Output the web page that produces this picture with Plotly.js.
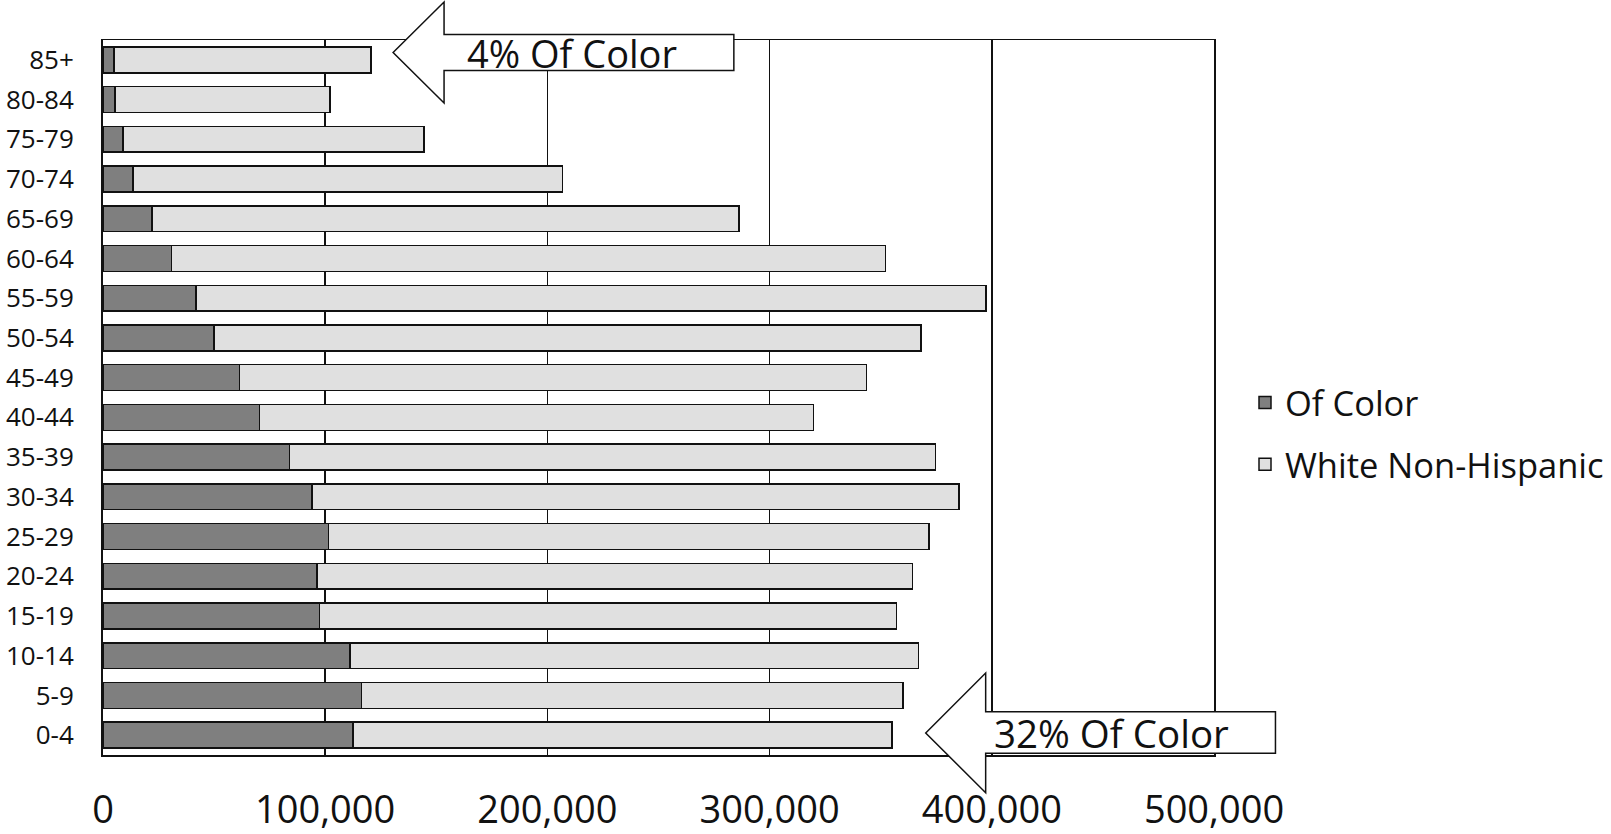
<!DOCTYPE html>
<html>
<head>
<meta charset="utf-8">
<script src="https://cdn.plot.ly/plotly-3.0.1.min.js"></script>
<style>html,body{margin:0;padding:0;background:#fff;}#chart{width:1611px;height:834px;}</style>
</head>
<body>
<div id="chart"></div>
<script>
const ageGroups = ['0-4','5-9','10-14','15-19','20-24','25-29','30-34','35-39','40-44','45-49','50-54','55-59','60-64','65-69','70-74','75-79','80-84','85+'];
const ofColor = [112400,116300,111100,97400,96300,101500,94100,83900,70400,61400,49900,41800,30900,22000,13500,8900,5400,5000];
const totals  = [355100,360100,367100,357100,364300,371800,385300,374600,319700,343600,368100,397300,352100,286300,206800,144400,102200,120500];
const whiteNonHispanic = totals.map((t,i)=>t-ofColor[i]);
const seriesNames = ['Of Color','White Non-Hispanic'];
const calloutTexts = ['4% Of Color','32% Of Color'];

const W=1611,H=834;
const L=102.7,R=1214.5,T=40,B=755;
const px = x => (x-L)/(R-L);
const py = y => (B-y)/(B-T);
function arrowPath(tipX,tipY,headX,headTop,headBot,shaftTop,shaftBot,rightX){
  const p=[[tipX,tipY],[headX,headTop],[headX,shaftTop],[rightX,shaftTop],[rightX,shaftBot],[headX,shaftBot],[headX,headBot]];
  return 'M'+p.map(q=>px(q[0]).toFixed(5)+','+py(q[1]).toFixed(5)).join(' L')+' Z';
}
const FONT='"Open Sans", "Noto Sans", sans-serif';
const lineCol='#111';

const traces=[
 {type:'bar',orientation:'h',name:seriesNames[0],y:ageGroups,x:ofColor,legendgroup:'a',
  marker:{color:'#7f7f7f',line:{color:lineCol,width:1.5}},hoverinfo:'x+y'},
 {type:'bar',orientation:'h',name:seriesNames[1],y:ageGroups,x:whiteNonHispanic,legendgroup:'b',
  marker:{color:'#e0e0e0',line:{color:lineCol,width:1.5}},hoverinfo:'x+y'}
];

const layout={
 width:W,height:H,
 margin:{l:L,r:W-R,t:T,b:H-B,pad:0,autoexpand:false},
 paper_bgcolor:'#fff',plot_bgcolor:'#fff',
 barmode:'stack',bargap:0.35,
 font:{family:FONT,color:'#111'},
 showlegend:true,
 legend:{xref:'container',yref:'container',x:1245/W,xanchor:'left',y:(H-433.5)/H,yanchor:'middle',font:{size:34.5,family:FONT,color:'#111'},
   traceorder:'grouped',tracegroupgap:14,bgcolor:'rgba(0,0,0,0)'},
 xaxis:{range:[0,500000],dtick:100000,tick0:0,tickformat:',',showgrid:true,gridcolor:lineCol,gridwidth:1.5,
   zeroline:false,showline:true,mirror:true,linecolor:lineCol,linewidth:1.5,ticks:'',
   tickfont:{size:38,family:FONT,color:'#111'},ticklabelstandoff:21,fixedrange:true},
 yaxis:{type:'category',showgrid:false,zeroline:false,showline:true,mirror:true,linecolor:lineCol,linewidth:2,ticks:'',
   tickfont:{size:26,family:FONT,color:'#111'},ticklabelstandoff:22,fixedrange:true},
 shapes:[
   {type:'path',xref:'paper',yref:'paper',path:arrowPath(393,52.5,444,2,103,34.5,70.5,734),fillcolor:'#fff',line:{color:lineCol,width:1.5},layer:'above'},
   {type:'path',xref:'paper',yref:'paper',path:arrowPath(926,733,986,673,792.7,711.7,753.3,1276),fillcolor:'#fff',line:{color:lineCol,width:1.5},layer:'above'}
 ],
 annotations:[
   {xref:'paper',yref:'paper',x:px(465),y:py(53),xanchor:'left',yanchor:'middle',text:calloutTexts[0],showarrow:false,font:{size:38,family:FONT,color:'#111'}},
   {xref:'paper',yref:'paper',x:px(992),y:py(733),xanchor:'left',yanchor:'middle',text:calloutTexts[1],showarrow:false,font:{size:38.5,family:FONT,color:'#111'}}
 ]
};
Plotly.newPlot('chart',traces,layout,{displayModeBar:false,staticPlot:true});
</script>
</body>
</html>
